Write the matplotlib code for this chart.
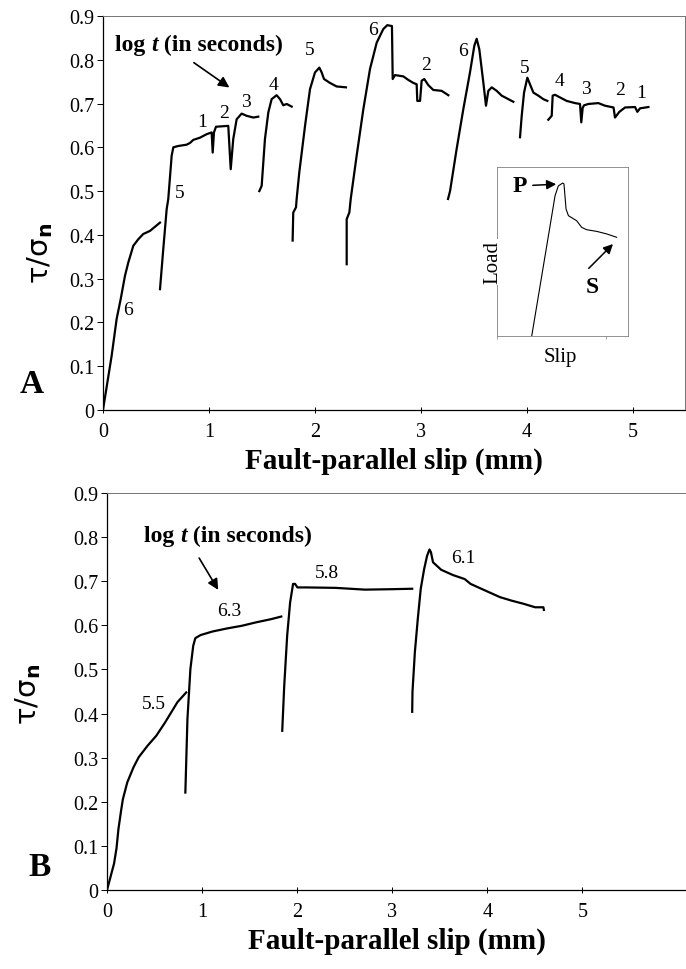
import matplotlib
matplotlib.use('Agg')
import matplotlib.pyplot as plt
from matplotlib.offsetbox import TextArea, HPacker, AnnotationBbox

plt.rcParams['font.family'] = ['Liberation Serif', 'DejaVu Sans']
plt.rcParams['mathtext.fontset'] = 'dejavusans'

# ---- panel A: slip vs tau/sigma_n, one segment per hold ----
a1_x = [0.0, 0.082, 0.129, 0.167, 0.208, 0.239, 0.286, 0.333, 0.380, 0.443, 0.538]
a1_y = [0.0, 0.124, 0.208, 0.253, 0.307, 0.337, 0.375, 0.390, 0.402, 0.409, 0.428]
a2_x = [0.538, 0.569, 0.601, 0.616, 0.648, 0.664, 0.710, 0.789, 0.821, 0.852, 0.915, 0.978,
        1.025, 1.035, 1.047, 1.066, 1.182, 1.205, 1.229, 1.261, 1.308, 1.355, 1.418, 1.465]
a2_y = [0.276, 0.368, 0.459, 0.482, 0.581, 0.600, 0.603, 0.606, 0.610, 0.617, 0.622, 0.630,
        0.634, 0.588, 0.634, 0.647, 0.649, 0.550, 0.619, 0.664, 0.677, 0.672, 0.668, 0.670]
a3_x = [1.475, 1.497, 1.528, 1.560, 1.591, 1.638, 1.670, 1.701, 1.733, 1.780]
a3_y = [0.500, 0.512, 0.619, 0.680, 0.710, 0.719, 0.710, 0.696, 0.699, 0.693]
a4_x = [1.789, 1.795, 1.821, 1.827, 1.852, 1.906, 1.953, 2.000, 2.041, 2.063, 2.085, 2.142, 2.204, 2.292]
a4_y = [0.387, 0.451, 0.463, 0.482, 0.543, 0.649, 0.733, 0.771, 0.782, 0.771, 0.756, 0.747, 0.739, 0.737]
a5_x = [2.299, 2.299, 2.324, 2.337, 2.393, 2.456, 2.519, 2.582, 2.644, 2.682, 2.726, 2.733, 2.755,
        2.833, 2.880, 2.928, 2.959, 2.965, 2.991, 3.006, 3.031, 3.069, 3.116, 3.195, 3.258]
a5_y = [0.333, 0.436, 0.451, 0.482, 0.581, 0.687, 0.779, 0.839, 0.870, 0.879, 0.877, 0.756, 0.765,
        0.762, 0.754, 0.747, 0.744, 0.706, 0.706, 0.752, 0.756, 0.742, 0.731, 0.729, 0.719]
a6_x = [3.255, 3.274, 3.336, 3.399, 3.462, 3.503, 3.525, 3.550, 3.588, 3.613, 3.635, 3.667, 3.714, 3.761, 3.824, 3.871]
a6_y = [0.482, 0.500, 0.596, 0.687, 0.771, 0.832, 0.848, 0.824, 0.748, 0.695, 0.729, 0.737, 0.729, 0.718, 0.710, 0.704]
a7_x = [3.934, 3.950, 3.972, 4.003, 4.028, 4.060, 4.107, 4.154, 4.192]
a7_y = [0.623, 0.672, 0.725, 0.759, 0.744, 0.725, 0.718, 0.710, 0.706]
a8_x = [4.201, 4.233, 4.242, 4.264, 4.311, 4.374, 4.453, 4.500, 4.512, 4.525, 4.538, 4.579,
        4.673, 4.736, 4.816, 4.830, 4.871, 4.925, 5.019, 5.041, 5.066, 5.145]
a8_y = [0.663, 0.672, 0.718, 0.720, 0.714, 0.706, 0.701, 0.699, 0.657, 0.690, 0.696, 0.699,
        0.701, 0.695, 0.691, 0.668, 0.681, 0.691, 0.692, 0.681, 0.689, 0.692]
a_labels = ['6', '5', '1', '2', '3', '4', '5', '6', '2', '6', '5', '4', '3', '2', '1']
a_label_x = [0.24, 0.726, 0.931, 1.141, 1.349, 1.607, 1.953, 2.550, 3.047, 3.399, 3.981, 4.305, 4.557, 4.877, 5.072]
a_label_y = [0.23, 0.497, 0.660, 0.680, 0.704, 0.744, 0.824, 0.870, 0.790, 0.820, 0.782, 0.752, 0.734, 0.733, 0.726]

# inset (normalised load / slip)
ins_x = [0.265, 0.405, 0.443, 0.468, 0.501, 0.511, 0.527, 0.545, 0.608, 0.646, 0.684, 0.761, 0.837, 0.913]
ins_y = [0.0, 0.652, 0.830, 0.888, 0.905, 0.900, 0.751, 0.712, 0.682, 0.643, 0.629, 0.619, 0.604, 0.584]

# ---- panel B ----
b1_x = [0.0, 0.037, 0.074, 0.10, 0.12, 0.148, 0.167, 0.213, 0.278, 0.333, 0.426, 0.519, 0.611, 0.741, 0.833]
b1_y = [0.0, 0.03, 0.06, 0.095, 0.138, 0.18, 0.206, 0.244, 0.278, 0.301, 0.327, 0.35, 0.38, 0.426, 0.448]
b2_x = [0.824, 0.846, 0.877, 0.907, 0.929, 0.984, 1.108, 1.262, 1.417, 1.571, 1.725, 1.833]
b2_y = [0.221, 0.388, 0.501, 0.554, 0.571, 0.578, 0.586, 0.593, 0.599, 0.607, 0.614, 0.620]
b3_x = [1.843, 1.864, 1.895, 1.926, 1.957, 1.978, 2.003, 2.096, 2.404, 2.713, 3.0, 3.21]
b3_y = [0.361, 0.463, 0.577, 0.652, 0.694, 0.694, 0.686, 0.686, 0.685, 0.681, 0.682, 0.683]
b4_x = [3.21, 3.213, 3.238, 3.269, 3.30, 3.336, 3.367, 3.392, 3.407, 3.429, 3.515, 3.639, 3.762,
        3.824, 3.978, 4.133, 4.256, 4.380, 4.503, 4.59, 4.595]
b4_y = [0.404, 0.449, 0.539, 0.615, 0.683, 0.728, 0.758, 0.772, 0.766, 0.743, 0.726, 0.714, 0.705,
        0.694, 0.679, 0.664, 0.656, 0.649, 0.641, 0.641, 0.635]
b_labels = ['5.5', '6.3', '5.8', '6.1']
b_label_x = [0.49, 1.29, 2.31, 3.747]
b_label_y = [0.422, 0.633, 0.72, 0.754]

yticks = [0, 0.1, 0.2, 0.3, 0.4, 0.5, 0.6, 0.7, 0.8, 0.9]
ytick_labels = ['0', '0.1', '0.2', '0.3', '0.4', '0.5', '0.6', '0.7', '0.8', '0.9']
xticks = [0, 1, 2, 3, 4, 5]

TICK_FS = 14.5
NUM_FS = 14
LOG_FS = 17
XLAB_FS = 21


def style_axes(ax, xmax, box):
    ax.set_xlim(0, xmax)
    ax.set_ylim(0, 0.9)
    ax.set_yticks(yticks)
    ax.set_yticklabels(ytick_labels)
    ax.set_xticks(xticks)
    ax.tick_params(axis='y', direction='out', length=4, width=0.7, labelsize=TICK_FS, pad=2)
    ax.tick_params(axis='x', direction='inout', length=5, width=0.7, labelsize=TICK_FS, pad=6)
    ax.spines['left'].set_linewidth(0.9)
    ax.spines['bottom'].set_linewidth(0.9)
    ax.spines['top'].set_color('0.45')
    ax.spines['top'].set_linewidth(0.7)
    if box:
        ax.spines['right'].set_color('0.45')
        ax.spines['right'].set_linewidth(0.7)
    else:
        ax.spines['right'].set_visible(False)
    ax.set_xlabel('Fault-parallel slip (mm)', fontsize=XLAB_FS, fontweight='bold', labelpad=4)


def log_t_label(ax, x, y):
    bold = dict(fontsize=LOG_FS, fontweight='bold', family='Liberation Serif')
    parts = [TextArea('log ', textprops=bold),
             TextArea('t', textprops=dict(bold, style='italic')),
             TextArea(' (in seconds)', textprops=bold)]
    box = HPacker(children=parts, align='baseline', pad=0, sep=0)
    ab = AnnotationBbox(box, (x, y), xycoords='data', frameon=False, box_alignment=(0.5, 0.5))
    ax.add_artist(ab)


fig = plt.figure(figsize=(6.86, 9.70), dpi=100)

# panel A
axA = fig.add_axes([0.1501, 0.5763, 0.8484, 0.4062])
for sx, sy in [(a1_x, a1_y), (a2_x, a2_y), (a3_x, a3_y), (a4_x, a4_y),
               (a5_x, a5_y), (a6_x, a6_y), (a7_x, a7_y), (a8_x, a8_y)]:
    axA.plot(sx, sy, color='black', lw=1.6, solid_joinstyle='round')
for t, x, y in zip(a_labels, a_label_x, a_label_y):
    axA.text(x, y, t, fontsize=NUM_FS, ha='center', va='center')
style_axes(axA, 5.49, True)
log_t_label(axA, 0.906, 0.836)
axA.annotate('', xy=(1.214, 0.733), xytext=(0.836, 0.797),
             arrowprops=dict(arrowstyle='-|>', color='black', lw=1.2, mutation_scale=16))

# inset sketch
axI = fig.add_axes([0.7245, 0.6526, 0.191, 0.1742])
axI.plot(ins_x, ins_y, color='black', lw=0.8)
axI.set_xlim(0, 1)
axI.set_ylim(0, 1)
axI.set_xticks([0, 0.83])
axI.set_xticklabels([])
axI.set_yticks([])
axI.tick_params(axis='x', direction='out', length=2, width=0.5, color='0.5')
for s in axI.spines.values():
    s.set_color('0.5')
    s.set_linewidth(0.6)
axI.text(-0.03, 0.44, 'Load', rotation=90, fontsize=15, ha='center', va='center',
         transform=axI.transAxes, bbox=dict(facecolor='white', edgecolor='none', pad=1))
axI.text(0.48, -0.12, 'Slip', fontsize=15, ha='center', va='center', transform=axI.transAxes)
axI.annotate('P', xy=(0.473, 0.899), xytext=(0.176, 0.888), textcoords='axes fraction',
             xycoords='axes fraction', fontsize=17, fontweight='bold', ha='center', va='center',
             arrowprops=dict(arrowstyle='-|>', color='black', lw=1.1, mutation_scale=14))
axI.text(0.725, 0.29, 'S', fontsize=17, fontweight='bold', ha='center', va='center',
         transform=axI.transAxes)
axI.annotate('', xy=(0.885, 0.544), xytext=(0.70, 0.40), textcoords='axes fraction',
             xycoords='axes fraction',
             arrowprops=dict(arrowstyle='-|>', color='black', lw=1.1, mutation_scale=14,
                             shrinkA=0, shrinkB=0))

# panel B
axB = fig.add_axes([0.156, 0.0814, 0.844, 0.4093])
for sx, sy in [(b1_x, b1_y), (b2_x, b2_y), (b3_x, b3_y), (b4_x, b4_y)]:
    axB.plot(sx, sy, color='black', lw=1.6, solid_joinstyle='round')
for t, x, y in zip(b_labels, b_label_x, b_label_y):
    axB.text(x, y, t, fontsize=NUM_FS, ha='center', va='center')
style_axes(axB, 6.09, False)
log_t_label(axB, 1.27, 0.803)
axB.annotate('', xy=(1.185, 0.675), xytext=(0.954, 0.758),
             arrowprops=dict(arrowstyle='-|>', color='black', lw=1.2, mutation_scale=16))

# y labels and panel letters
ylab = r'$\mathrm{\tau/\sigma}_{\mathbf{n}}$'
fig.text(40 / 686, 1 - 253 / 970, ylab, rotation=90, fontsize=21, ha='center', va='center')
fig.text(28 / 686, 1 - 694 / 970, ylab, rotation=90, fontsize=21, ha='center', va='center')
fig.text(32 / 686, 1 - 385 / 970, 'A', fontsize=24, fontweight='bold', ha='center', va='center')
fig.text(40 / 686, 1 - 868 / 970, 'B', fontsize=24, fontweight='bold', ha='center', va='center')

fig.savefig('out.png', dpi=100)
